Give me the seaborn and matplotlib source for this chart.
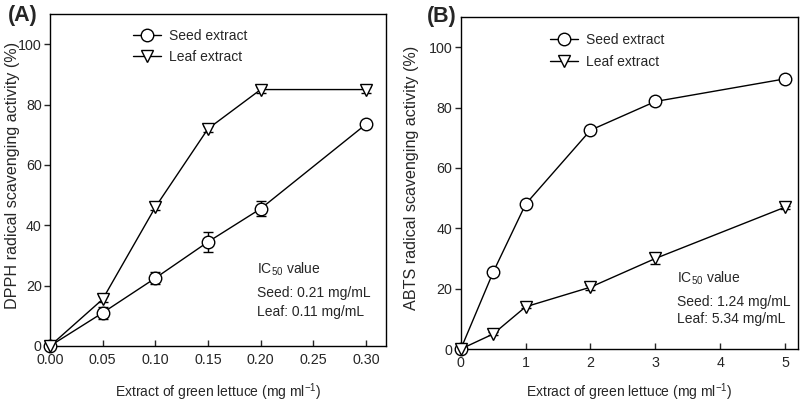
import numpy as np
import pandas as pd
import matplotlib
matplotlib.use("Agg")
import matplotlib.pyplot as plt
from matplotlib.lines import Line2D
import seaborn as sns

# Panel A: DPPH
dpph_conc = [0.0, 0.05, 0.10, 0.15, 0.20, 0.30]
dpph_seed = [0.0, 11.0, 22.5, 34.5, 45.5, 73.5]
dpph_seed_err = [0.0, 2.0, 2.0, 3.2, 2.5, 1.0]
dpph_leaf = [0.0, 15.5, 46.0, 72.0, 85.0, 85.0]
dpph_leaf_err = [0.0, 1.0, 1.0, 1.0, 1.0, 1.0]

# Panel B: ABTS
abts_conc = [0.0, 0.5, 1.0, 2.0, 3.0, 5.0]
abts_seed = [0.0, 25.5, 48.0, 72.5, 82.0, 89.5]
abts_seed_err = [0.0, 1.0, 1.0, 1.0, 1.0, 1.0]
abts_leaf = [0.0, 5.0, 14.0, 20.5, 30.0, 47.0]
abts_leaf_err = [0.0, 0.5, 0.5, 0.8, 1.8, 0.5]

series_names = ["Seed extract", "Leaf extract"]
ic50_a = ["Seed: 0.21 mg/mL", "Leaf: 0.11 mg/mL"]
ic50_b = ["Seed: 1.24 mg/mL", "Leaf: 5.34 mg/mL"]

sns.set_style("ticks")
plt.rcParams["font.family"] = ["Liberation Sans", "DejaVu Sans"]
plt.rcParams["mathtext.fontset"] = "custom"
plt.rcParams["mathtext.rm"] = "Liberation Sans"
plt.rcParams["mathtext.it"] = "Liberation Sans"

FS = 10.0

fig = plt.figure(figsize=(8, 4.04), dpi=100)
ax_a = fig.add_axes([0.0625, 0.1436, 0.42, 0.8214])
ax_b = fig.add_axes([0.576, 0.136, 0.4215, 0.822])

markers = {"Seed extract": "o", "Leaf extract": "v"}


def draw_panel(ax, conc, seed, seed_err, leaf, leaf_err):
    df = pd.DataFrame({
        "conc": conc * 2,
        "value": seed + leaf,
        "err": seed_err + leaf_err,
        "series": [series_names[0]] * len(conc) + [series_names[1]] * len(conc),
    })
    for name, sub in df.groupby("series"):
        ax.errorbar(sub["conc"], sub["value"], yerr=sub["err"], fmt="none",
                    ecolor="black", elinewidth=1, capsize=3.5, capthick=1,
                    zorder=2, clip_on=False)
    sns.lineplot(data=df, x="conc", y="value", hue="series", style="series",
                 markers=markers, dashes=False,
                 palette={series_names[0]: "black", series_names[1]: "black"},
                 markersize=9, markerfacecolor="white", markeredgecolor="black",
                 markeredgewidth=1.0, linewidth=1.0, legend=False, ax=ax,
                 zorder=3, clip_on=False)
    handles = [Line2D([], [], color="black", lw=1, marker=markers[n], ms=9,
                      mfc="white", mec="black", mew=1.0) for n in series_names]
    ax.legend(handles, series_names, loc="upper left", frameon=False,
              handlelength=2.0, handletextpad=0.55, borderpad=0,
              labelspacing=0.55, fontsize=FS)
    ax.set_ylim(0, 110)
    ax.set_yticks([0, 20, 40, 60, 80, 100])
    ax.tick_params(axis="x", direction="in", length=4, labelsize=FS + 0.3, width=1, pad=5)
    ax.tick_params(axis="y", direction="out", length=4, labelsize=FS + 0.3, width=1, pad=2)
    for s in ax.spines.values():
        s.set_linewidth(1.0)
        s.set_color("black")
    ax.set_xlabel("Extract of green lettuce (mg ml$^{-1}$)", fontsize=FS)
    ax.xaxis.label.set_va("center")


draw_panel(ax_a, dpph_conc, dpph_seed, dpph_seed_err, dpph_leaf, dpph_leaf_err)
ax_a.set_xlim(0, 0.319)
ax_a.set_xticks([0.0, 0.05, 0.10, 0.15, 0.20, 0.25, 0.30])
ax_a.set_xticklabels(["0.00", "0.05", "0.10", "0.15", "0.20", "0.25", "0.30"])
ax_a.set_ylabel("DPPH radical scavenging activity (%)", fontsize=11.6)
ax_a.yaxis.label.set_va("center")
ax_a.yaxis.set_label_coords(-0.113, 0.514)
ax_a.xaxis.set_label_coords(0.5, -0.139)
ax_a.legend_.set_bbox_to_anchor((0.227, 0.977))
ax_a.text(0.1965, 25.5, "IC$_{50}$ value", fontsize=FS, va="center")
ax_a.text(0.1965, 17.5, ic50_a[0], fontsize=FS, va="center")
ax_a.text(0.1965, 11.4, ic50_a[1], fontsize=FS, va="center")
fig.text(0.01, 0.962, "(A)", fontsize=15.5, fontweight="bold", va="center")

draw_panel(ax_b, abts_conc, abts_seed, abts_seed_err, abts_leaf, abts_leaf_err)
ax_b.set_xlim(0, 5.2)
ax_b.set_xticks([0, 1, 2, 3, 4, 5])
ax_b.set_ylabel("ABTS radical scavenging activity (%)", fontsize=11.6)
ax_b.yaxis.label.set_va("center")
ax_b.yaxis.set_label_coords(-0.145, 0.514)
ax_b.xaxis.set_label_coords(0.5, -0.13)
ax_b.legend_.set_bbox_to_anchor((0.245, 0.972))
ax_b.text(3.33, 23.5, "IC$_{50}$ value", fontsize=FS, va="center")
ax_b.text(3.33, 15.6, ic50_b[0], fontsize=FS, va="center")
ax_b.text(3.33, 10.0, ic50_b[1], fontsize=FS, va="center")
fig.text(0.534, 0.958, "(B)", fontsize=15.5, fontweight="bold", va="center")

fig.savefig("out.png", dpi=100)
